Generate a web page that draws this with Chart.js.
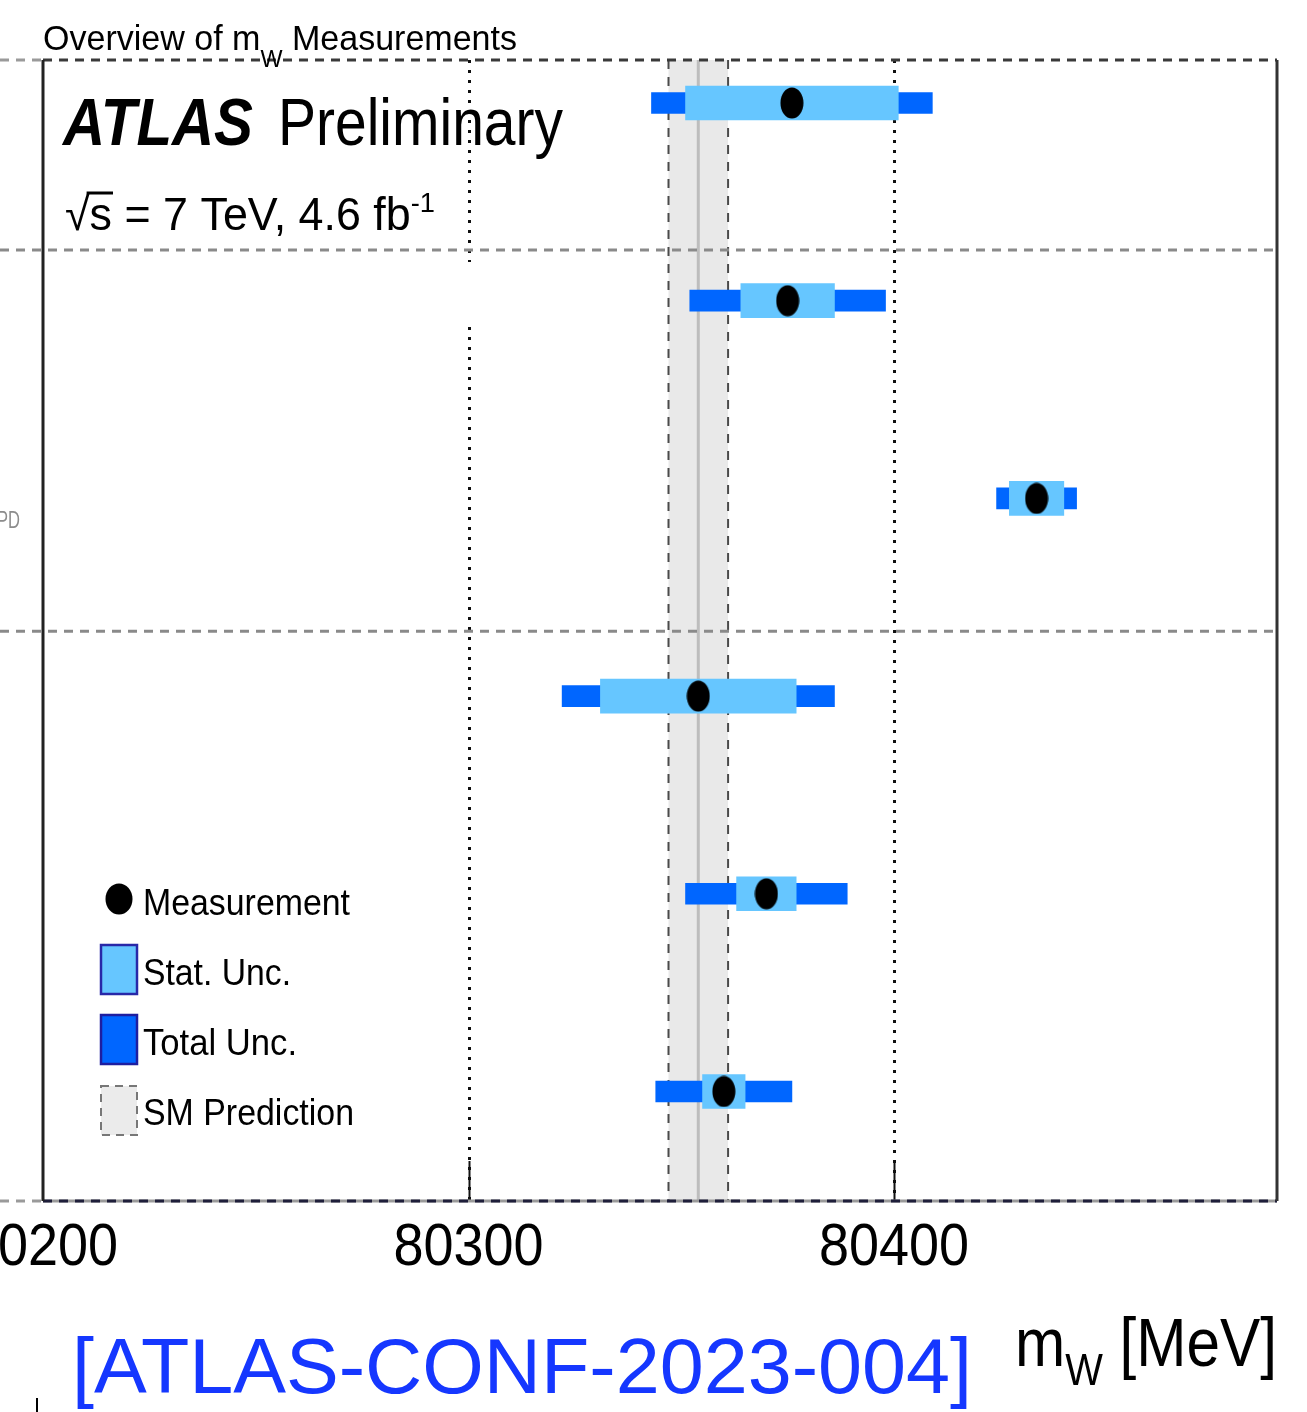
<!DOCTYPE html>
<html>
<head>
<meta charset="utf-8">
<title>Overview of mW Measurements</title>
<script src="https://cdn.jsdelivr.net/npm/chart.js@4.4.1/dist/chart.umd.min.js"></script>
<style>
  html, body { margin: 0; padding: 0; background: #ffffff; }
  canvas { display: block; }
</style>
</head>
<body>
<canvas id="mw" width="1307" height="1412" style="width:1307px;height:1412px"></canvas>
<script>
// ---- data (MeV) ----
const rowPositions  = [0, 1, 2, 3, 4, 5];
const centralValues = [80376, 80375, 80433.5, 80354, 80370, 80360];
const statUnc       = [25, 11, 6.4, 23, 7, 5];
const totalUnc      = [33, 23, 9.4, 32, 19, 16];
const smCentral     = 80354;
const smUnc         = 7;
const xTickValues   = [80200, 80300, 80400];
const xTickLabels   = ['80200', '80300', '80400'];
const sectionBreaks = [0.744, 2.672];
const legendLabels  = ['Measurement', 'Stat. Unc.', 'Total Unc.', 'SM Prediction'];

const FONT = "'Liberation Sans', Arial, Helvetica, sans-serif";
const COL_TOTAL = '#0066ff';
const COL_STAT = '#66c6ff';

function ellipseSprite(w, h) {
  const c = document.createElement('canvas');
  c.width = w; c.height = h;
  const g = c.getContext('2d');
  g.fillStyle = '#000';
  g.beginPath();
  g.ellipse(w / 2, h / 2, w / 2 - 0.5, h / 2 - 0.5, 0, 0, Math.PI * 2);
  g.fill();
  return c;
}
const dotImg = ellipseSprite(24, 32);
const legendDotImg = ellipseSprite(28, 32);

// draw a run of text pieces squeezed horizontally to a given width
function drawRuns(ctx, runs, left, baseline, width, color) {
  let natural = 0;
  runs.forEach(r => { ctx.font = r.font; r.w = ctx.measureText(r.text).width; natural += r.w; });
  const sx = width ? width / natural : 1;
  let x = left;
  ctx.fillStyle = color || '#000';
  ctx.textAlign = 'left';
  ctx.textBaseline = 'alphabetic';
  runs.forEach(r => {
    ctx.save();
    ctx.font = r.font;
    ctx.translate(x, baseline + (r.dy || 0));
    ctx.scale(sx, 1);
    ctx.fillText(r.text, 0, 0);
    ctx.restore();
    r.x = x; r.sw = r.w * sx;
    x += r.sw;
  });
  return runs;
}

function hLine(ctx, x0, x1, y, color, width, dash) {
  ctx.save();
  ctx.strokeStyle = color; ctx.lineWidth = width; ctx.setLineDash(dash || []);
  ctx.beginPath(); ctx.moveTo(x0, y); ctx.lineTo(x1, y); ctx.stroke();
  ctx.restore();
}
function vLine(ctx, x, y0, y1, color, width, dash) {
  ctx.save();
  ctx.strokeStyle = color; ctx.lineWidth = width; ctx.setLineDash(dash || []);
  ctx.beginPath(); ctx.moveTo(x, y0); ctx.lineTo(x, y1); ctx.stroke();
  ctx.restore();
}

const backdrop = {
  id: 'backdrop',
  beforeDatasetsDraw(chart) {
    const {ctx, chartArea: a, scales: {x, y}} = chart;
    // SM prediction band
    const bx0 = x.getPixelForValue(smCentral - smUnc);
    const bx1 = x.getPixelForValue(smCentral + smUnc);
    ctx.fillStyle = '#e9e9e9';
    ctx.fillRect(bx0, a.top, bx1 - bx0, a.bottom - a.top);
    vLine(ctx, x.getPixelForValue(smCentral), a.top, a.bottom, '#bdbdbd', 3);
    vLine(ctx, bx0, a.top, a.bottom, '#4a4a4a', 2, [9, 8]);
    vLine(ctx, bx1, a.top, a.bottom, '#4a4a4a', 2, [9, 8]);

    // dotted grid at the inner ticks, with short solid ticks at the bottom
    xTickValues.slice(1).forEach((v, i) => {
      const px = Math.round(x.getPixelForValue(v)) + 0.5;
      if (i === 0) {
        vLine(ctx, px, a.top, 262, '#111', 3, [3, 7]);
        vLine(ctx, px, 327, a.bottom, '#111', 3, [3, 7]);
      } else {
        vLine(ctx, px, a.top, a.bottom, '#111', 3, [3, 7]);
      }
      vLine(ctx, px, a.bottom - 40, a.bottom, '#111', 2);
    });

    // section separators
    sectionBreaks.forEach(v => {
      hLine(ctx, 0, a.right, y.getPixelForValue(v), '#8a8a8a', 3, [9, 7]);
    });

    // frame
    hLine(ctx, 0, a.left, a.top, '#9a9a9a', 3, [9, 7]);
    hLine(ctx, a.left, a.right, a.top, '#3a3a3a', 3, [9, 7]);
    hLine(ctx, 0, a.left, a.bottom, '#9a9a9a', 3, [9, 7]);
    hLine(ctx, a.left, a.right, a.bottom, '#9a9a9a', 3);
    hLine(ctx, a.left, a.right, a.bottom, '#1e1e3a', 3, [9, 7]);
    vLine(ctx, a.left, a.top, a.bottom, '#222', 3);
    vLine(ctx, a.right, a.top, a.bottom, '#333', 3);
  },
  afterDraw(chart) {
    const {ctx, scales: {x}} = chart;

    // title
    drawRuns(ctx, [
      {text: 'Overview of m', font: `35px ${FONT}`},
      {text: 'W', font: `24px ${FONT}`, dy: 17},
      {text: ' Measurements', font: `35px ${FONT}`}
    ], 43, 50, 474);

    // experiment label
    drawRuns(ctx, [{text: 'ATLAS', font: `italic bold 67px ${FONT}`}], 63, 145, 190);
    drawRuns(ctx, [{text: 'Preliminary', font: `67px ${FONT}`}], 278, 145, 285);

    const r = drawRuns(ctx, [
      {text: '\u221A', font: `46px ${FONT}`},
      {text: 's', font: `46px ${FONT}`},
      {text: ' = 7 TeV, 4.6 fb', font: `46px ${FONT}`},
      {text: '-1', font: `28px ${FONT}`, dy: -18}
    ], 65, 230, 370);
    hLine(ctx, r[1].x - 3, r[1].x + r[1].sw + 1, 193, '#000', 3);

    // partial row label at the left edge
    drawRuns(ctx, [{text: 'PD', font: `24px ${FONT}`}], -3, 528, 23, '#8c8c8c');

    // tick labels
    xTickValues.forEach((v, i) => {
      const px = x.getPixelForValue(v);
      drawRuns(ctx, [{text: xTickLabels[i], font: `60px ${FONT}`}], px - 75, 1265, 150);
    });

    // axis title
    drawRuns(ctx, [
      {text: 'm', font: `68px ${FONT}`},
      {text: 'W', font: `45px ${FONT}`, dy: 19},
      {text: ' [MeV]', font: `68px ${FONT}`}
    ], 1015, 1366, 262);

    // reference
    drawRuns(ctx, [{text: '[ATLAS-CONF-2023-004]', font: `78px ${FONT}`}], 72, 1393, 900, '#1537ff');
    vLine(ctx, 37, 1398, 1412, '#000', 2);

    // legend
    const base = [915, 985, 1055, 1125];
    const widths = [207, 148, 154, 211];
    ctx.drawImage(legendDotImg, 119 - 14, 899 - 16);
    ctx.save();
    ctx.lineWidth = 2.5;
    ctx.fillStyle = COL_STAT; ctx.strokeStyle = '#2828a8';
    ctx.fillRect(101, 945, 36, 49); ctx.strokeRect(101, 945, 36, 49);
    ctx.fillStyle = COL_TOTAL; ctx.strokeStyle = '#1e1ea0';
    ctx.fillRect(101, 1015, 36, 49); ctx.strokeRect(101, 1015, 36, 49);
    ctx.fillStyle = '#ebebeb';
    ctx.fillRect(101, 1086, 36, 49);
    ctx.strokeStyle = '#777'; ctx.lineWidth = 2; ctx.setLineDash([8, 6]);
    ctx.strokeRect(101, 1086, 36, 49);
    ctx.restore();
    legendLabels.forEach((t, i) => {
      drawRuns(ctx, [{text: t, font: `37px ${FONT}`}], 143, base[i], widths[i]);
    });
  }
};

new Chart(document.getElementById('mw'), {
  type: 'bar',
  data: {
    datasets: [
      {
        type: 'scatter',
        data: rowPositions.map((p, i) => ({x: centralValues[i], y: p})),
        pointStyle: dotImg,
        order: 0
      },
      {
        type: 'bar',
        indexAxis: 'y',
        grouped: false,
        barThickness: 34,
        backgroundColor: COL_STAT,
        borderWidth: 0,
        data: rowPositions.map((p, i) => ({x: [centralValues[i] - statUnc[i], centralValues[i] + statUnc[i]], y: p})),
        order: 1
      },
      {
        type: 'bar',
        indexAxis: 'y',
        grouped: false,
        barThickness: 21,
        backgroundColor: COL_TOTAL,
        borderWidth: 0,
        data: rowPositions.map((p, i) => ({x: [centralValues[i] - totalUnc[i], centralValues[i] + totalUnc[i]], y: p})),
        order: 2
      }
    ]
  },
  options: {
    indexAxis: 'y',
    responsive: false,
    devicePixelRatio: 1,
    animation: false,
    layout: {padding: {left: 43, top: 60, right: 30, bottom: 211}},
    scales: {
      x: {type: 'linear', min: 80200, max: 80490, offset: false, beginAtZero: false, display: false},
      y: {type: 'linear', min: -0.2175, max: 5.554, offset: false, reverse: true, beginAtZero: false, display: false}
    },
    plugins: {legend: {display: false}, tooltip: {enabled: false}}
  },
  plugins: [backdrop]
});
</script>
</body>
</html>
